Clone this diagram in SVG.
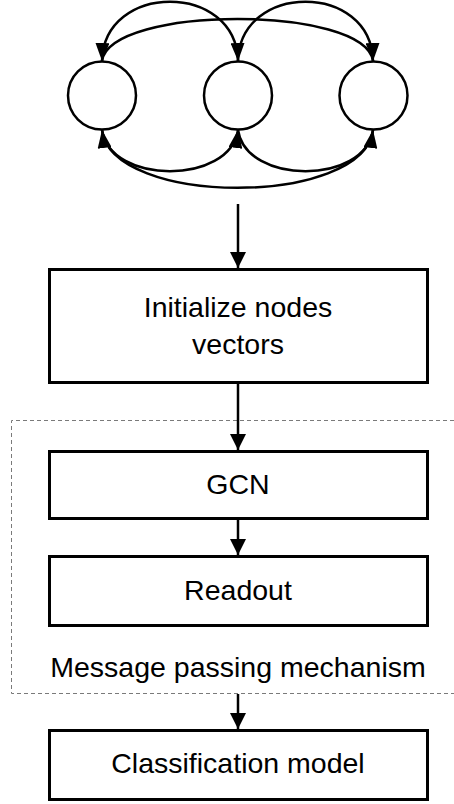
<svg xmlns="http://www.w3.org/2000/svg" width="454" height="804" viewBox="0 0 454 804">
  <style>
    .node { fill: #ffffff; stroke: #000000; stroke-width: 3; }
    .graph-node { fill: #ffffff; stroke: #000000; stroke-width: 2.5; }
    .edge { fill: none; stroke: #000000; stroke-width: 2.5; }
    .flow { fill: none; stroke: #000000; stroke-width: 2.5; marker-end: url(#arrow); }
    .label { font-family: "Liberation Sans", Arial, sans-serif; font-size: 28.5px; fill: #000000; text-anchor: middle; }
    .frame { fill: none; stroke: #7a7a7a; stroke-width: 1; stroke-dasharray: 4 3; }
  </style>
  <defs>
    <marker id="arrow" markerUnits="userSpaceOnUse" viewBox="0 0 16 16" markerWidth="16" markerHeight="16" refX="16" refY="8" orient="auto-start-reverse">
      <path d="M0,0 L16,8 L0,16 z" fill="#000000"/>
    </marker>
    <marker id="arc-arrow" markerUnits="userSpaceOnUse" viewBox="0 0 18 14" markerWidth="18" markerHeight="14" refX="18" refY="7" orient="auto-start-reverse">
      <path d="M0,0 L18,7 L0,14 z" fill="#000000"/>
    </marker>
  </defs>

  <!-- example graph: three vertices -->
  <g id="vertex-a"><circle class="graph-node" cx="102" cy="95.5" r="34"/></g>
  <g id="vertex-b"><circle class="graph-node" cx="238" cy="95.5" r="34"/></g>
  <g id="vertex-c"><circle class="graph-node" cx="373.5" cy="95.5" r="34"/></g>

  <!-- dashed frame around the message passing stage (open on the right) -->
  <g id="message-passing">
    <path class="frame" d="M454,420.5 H11.5 V693.5 H454"/>
    <text class="label" x="238" y="677">Message passing mechanism</text>
  </g>

  <g id="init">
    <rect class="node" x="49.5" y="269.5" width="378" height="113"/>
    <text class="label" x="238" y="317">Initialize nodes</text>
    <text class="label" x="238" y="354">vectors</text>
  </g>
  <g id="gcn">
    <rect class="node" x="49.5" y="451.5" width="378" height="67"/>
    <text class="label" x="238" y="494">GCN</text>
  </g>
  <g id="readout">
    <rect class="node" x="49.5" y="556.5" width="378" height="69"/>
    <text class="label" x="238" y="600">Readout</text>
  </g>
  <g id="classifier">
    <rect class="node" x="49.5" y="730.5" width="378" height="69"/>
    <text class="label" x="238" y="773">Classification model</text>
  </g>

  <g id="connectors">
    <!-- graph edges, upper side -->
    <path class="edge" d="M102,61 C104,-18 236,-18 238,61" marker-start="url(#arc-arrow)" marker-end="url(#arc-arrow)"/>
    <path class="edge" d="M238,61 C240,-18 371,-18 373,61" marker-end="url(#arc-arrow)"/>
    <path class="edge" d="M102,61 C110,5 365,5 373,61"/>
    <!-- graph edges, lower side -->
    <path class="edge" d="M102,130 C110,185 230,185 238,130" marker-start="url(#arc-arrow)" marker-end="url(#arc-arrow)"/>
    <path class="edge" d="M238,130 C246,185 365,185 373,130" marker-end="url(#arc-arrow)"/>
    <path class="edge" d="M102,130 C112,207 363,207 373,130"/>
    <!-- pipeline flow -->
    <path class="flow" d="M238,204 V268"/>
    <path class="flow" d="M238,383 V450"/>
    <path class="flow" d="M238,519 V555"/>
    <path class="flow" d="M238,694 V729"/>
  </g>
</svg>
